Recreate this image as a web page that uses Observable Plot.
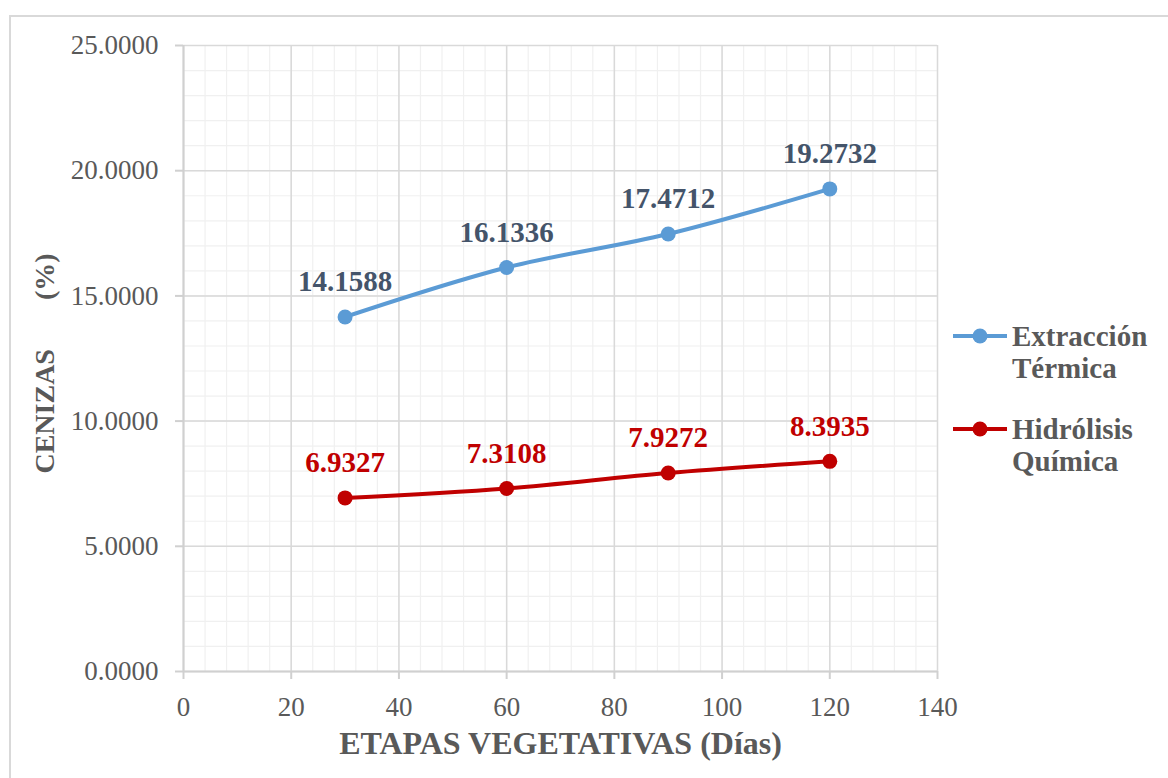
<!DOCTYPE html>
<html>
<head>
<meta charset="utf-8">
<script src="https://cdn.jsdelivr.net/npm/d3@7"></script>
<script src="https://cdn.jsdelivr.net/npm/@observablehq/plot@0.6"></script>
<style>
  html, body { margin: 0; padding: 0; background: #fff; }
  #wrap { position: relative; width: 1168px; height: 778px; overflow: hidden; font-family: "Liberation Serif", "Times New Roman", serif; }
  #frame { position: absolute; left: 9px; top: 15px; width: 1180px; height: 800px; border: 2px solid #d9d9d9; box-sizing: border-box; }
  #chart { position: absolute; left: 0; top: 0; }
  .leg { position: absolute; left: 952px; display: flex; align-items: flex-start; }
  .leg span { font-weight: bold; font-size: 29px; color: #595959; line-height: 32px; margin-left: 4px; }
</style>
</head>
<body>
<div id="wrap"><div id="frame"></div><div id="chart"></div></div>
<script>
const days = [30, 60, 90, 120];
const seriesNames = ["Extracción Térmica", "Hidrólisis Química"];
const termica = [14.1588, 16.1336, 17.4712, 19.2732];
const quimica = [6.9327, 7.3108, 7.9272, 8.3935];
const seriesColors = ["#5B9BD5", "#C00000"];
const labelColors = ["#44546A", "#C00000"];
const xTicks = [0, 20, 40, 60, 80, 100, 120, 140];
const yTicks = [0, 5, 10, 15, 20, 25];
const xTitle = "ETAPAS VEGETATIVAS (Días)";
const yTitle = "CENIZAS       (%)";

const data = [];
days.forEach((d, i) => {
  data.push({ s: seriesNames[0], x: d, y: termica[i] });
  data.push({ s: seriesNames[1], x: d, y: quimica[i] });
});

const minorX = d3.range(0, 141, 4);
const minorY = d3.range(0, 25.01, 1);

const plot = Plot.plot({
  width: 1168,
  height: 778,
  marginLeft: 183,
  marginRight: 231,
  marginTop: 45,
  marginBottom: 107,
  style: { fontFamily: "Liberation Serif, Times New Roman, serif", background: "transparent", overflow: "visible" },
  x: { domain: [0, 140], ticks: xTicks, tickSize: 0, label: null },
  y: { domain: [0, 25], ticks: yTicks, label: null },
  color: { domain: seriesNames, range: seriesColors },
  marks: [
    Plot.ruleX(minorX, { stroke: "#f0f0f0", strokeWidth: 1.2 }),
    Plot.ruleY(minorY, { stroke: "#f0f0f0", strokeWidth: 1.2 }),
    Plot.ruleX(xTicks, { stroke: "#d9d9d9", strokeWidth: 1.5 }),
    Plot.ruleY(yTicks, { stroke: "#d9d9d9", strokeWidth: 1.5 }),
    Plot.ruleY([0], { x1: 0, x2: 140, stroke: "#d0d0d0", strokeWidth: 2 }),
    Plot.ruleX([0], { y1: 0, y2: 25, stroke: "#d0d0d0", strokeWidth: 2 }),
    Plot.axisX({ ticks: xTicks, tickSize: 8, tickPadding: 17, stroke: "#d0d0d0", strokeWidth: 2, fill: "#595959", fontSize: 27, label: null }),
    Plot.axisY({ ticks: yTicks, tickSize: 8, tickPadding: 17, stroke: "#d0d0d0", strokeWidth: 2, fill: "#595959", fontSize: 27, tickFormat: d3.format(".4f"), label: null }),
    Plot.line(data, { x: "x", y: "y", z: "s", stroke: "s", strokeWidth: 4, curve: "catmull-rom" }),
    Plot.dot(data, { x: "x", y: "y", fill: "s", r: 7.5 }),
    Plot.text(data, { x: "x", y: "y", text: d => d.y.toFixed(4), dy: -35, fontSize: 29, fontWeight: "bold",
      fill: d => labelColors[seriesNames.indexOf(d.s)] }),
    Plot.text([xTitle], { frameAnchor: "bottom", lineAnchor: "middle", dy: 72, fontSize: 32, fontWeight: "bold", fill: "#595959" }),
    Plot.text([yTitle], { frameAnchor: "left", textAnchor: "middle", lineAnchor: "middle", dx: -138, dy: 5, rotate: -90, fontSize: 28, fontWeight: "bold", fill: "#595959" })
  ]
});
plot.querySelectorAll("text").forEach(t => { if (t.textContent.includes("CENIZAS")) t.style.whiteSpace = "pre"; });
document.getElementById("chart").appendChild(plot);

const wrap = document.getElementById("wrap");
const legTops = [320, 413];
seriesNames.forEach((name, i) => {
  const div = document.createElement("div");
  div.className = "leg";
  div.style.top = legTops[i] + "px";
  const sw = `<svg width="56" height="32" style="flex:none"><line x1="1" x2="55" y1="16" y2="16" stroke="${seriesColors[i]}" stroke-width="4"/><circle cx="28" cy="16" r="7.5" fill="${seriesColors[i]}"/></svg>`;
  const words = name.split(" ");
  div.innerHTML = sw + `<span>${words[0]}<br>${words[1]}</span>`;
  wrap.appendChild(div);
});
</script>
</body>
</html>
